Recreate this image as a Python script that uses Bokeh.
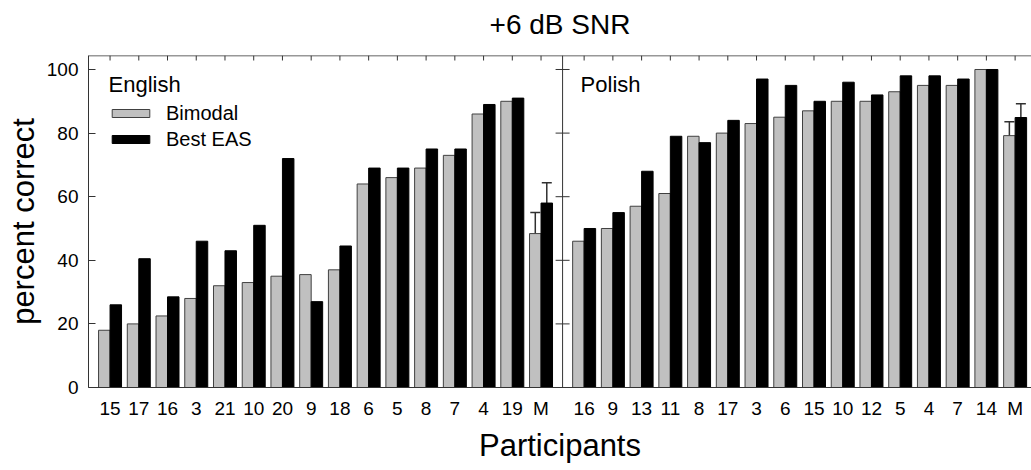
import numpy as np
from bokeh.plotting import figure
from bokeh.models import (Range1d, FixedTicker, Span, Label, Legend, LinearAxis,
                          LegendItem, Whisker, TeeHead, ColumnDataSource)
from bokeh.embed import file_html
from bokeh.resources import INLINE

# ---------------- data ----------------
english_ids = ["15", "17", "16", "3", "21", "10", "20", "9", "18", "6", "5", "8", "7", "4", "19", "M"]
english_bimodal = [18, 20, 22.5, 28, 32, 33, 35, 35.5, 37, 64, 66, 69, 73, 86, 90, 48.4]
english_best_eas = [26, 40.5, 28.5, 46, 43, 51, 72, 27, 44.5, 69, 69, 75, 75, 89, 91, 58]
english_mean_err = [6.6, 6.4]          # bimodal, best EAS (upper error of mean)

polish_ids = ["16", "9", "13", "11", "8", "17", "3", "6", "15", "10", "12", "5", "4", "7", "14", "M"]
polish_bimodal = [46, 50, 57, 61, 79, 80, 83, 85, 87, 90, 90, 93, 95, 95, 100, 79.2]
polish_best_eas = [50, 55, 68, 79, 77, 84, 97, 95, 90, 96, 92, 98, 98, 97, 100, 84.9]
polish_mean_err = [4.4, 4.3]

y_ticks = [0, 20, 40, 60, 80, 100]
title_text = "+6 dB SNR"

# ---------------- layout constants ----------------
FONT = "Liberation Sans"
BAR_W = 0.4
PANEL_SHIFT = 16.5
DIVIDER = 15.75
X_START, X_END = -0.75, 32.07
Y_TOP = 104.4
GREY = "#c0c0c0"
EDGE = "#404040"
AX = "#333333"
PX_PER_X = 28.73
PX_PER_Y = 3.18

n = len(english_ids)
x_left = np.arange(n, dtype=float)
x_right = np.arange(n, dtype=float) + PANEL_SHIFT
centers = np.concatenate([x_left, x_right])
labels = english_ids + polish_ids

p = figure(width=1031, height=470, x_range=Range1d(X_START, X_END), y_range=Range1d(0, Y_TOP),
           output_backend="svg", toolbar_location=None,
           min_border_left=88, min_border_right=0, min_border_top=55, min_border_bottom=83)
p.outline_line_color = None
p.xgrid.grid_line_color = None
p.ygrid.grid_line_color = None

xax = p.below[0]
yax = p.left[0]

# title drawn as the label of a tick-less axis above the frame
top_axis = LinearAxis(ticker=FixedTicker(ticks=[]), major_tick_out=0, major_tick_in=0,
                      major_label_standoff=0, axis_line_color=None, major_tick_line_color=None,
                      minor_tick_line_color=None, axis_label=title_text,
                      axis_label_text_font=FONT, axis_label_text_font_size="28px",
                      axis_label_text_font_style="normal", axis_label_text_color="black",
                      axis_label_standoff=16)
p.add_layout(top_axis, "above")

# bars
bim_x = centers - BAR_W / 2
eas_x = centers + BAR_W / 2
bim_top = english_bimodal + polish_bimodal
eas_top = english_best_eas + polish_best_eas

r_bim = p.vbar(x=bim_x, top=bim_top, width=BAR_W, bottom=0,
               fill_color=GREY, line_color=EDGE, line_width=1)
r_eas = p.vbar(x=eas_x, top=eas_top, width=BAR_W, bottom=0,
               fill_color="black", line_color="black", line_width=1)

# error bars of the means
err_src = ColumnDataSource(dict(
    x=[x_left[-1] - BAR_W / 2, x_left[-1] + BAR_W / 2, x_right[-1] - BAR_W / 2, x_right[-1] + BAR_W / 2],
    lower=[english_bimodal[-1], english_best_eas[-1], polish_bimodal[-1], polish_best_eas[-1]],
    upper=[english_bimodal[-1] + english_mean_err[0], english_best_eas[-1] + english_mean_err[1],
           polish_bimodal[-1] + polish_mean_err[0], polish_best_eas[-1] + polish_mean_err[1]],
))
p.add_layout(Whisker(base="x", lower="lower", upper="upper", source=err_src, dimension="height",
                     line_color="#303030", line_width=1.5, lower_head=None,
                     upper_head=TeeHead(size=10, line_color="#303030", line_width=1.5)))

# frame top line with inward ticks at category centres
p.add_layout(Span(location=Y_TOP, dimension="width", line_color=AX, line_width=1.5))
p.segment(x0=centers, x1=centers, y0=[Y_TOP] * len(centers), y1=[Y_TOP - 5 / PX_PER_Y] * len(centers),
          line_color=AX, line_width=1)

# divider between panels with ticks on both sides
p.add_layout(Span(location=DIVIDER, dimension="height", line_color=AX, line_width=1))
tick_half = 7 / PX_PER_X
p.segment(x0=[DIVIDER - tick_half] * len(y_ticks), x1=[DIVIDER + tick_half] * len(y_ticks),
          y0=y_ticks, y1=y_ticks, line_color=AX, line_width=1)

# left axis
yax.ticker = FixedTicker(ticks=y_ticks)
yax.major_tick_in = 7
yax.major_tick_out = 0
yax.minor_tick_line_color = None
yax.axis_line_color = AX
yax.major_tick_line_color = AX
yax.axis_label = "percent correct"
yax.axis_label_text_font = FONT
yax.axis_label_text_font_size = "31px"
yax.axis_label_text_font_style = "normal"
yax.axis_label_text_color = "black"
yax.axis_label_standoff = 3
yax.major_label_text_font = FONT
yax.major_label_text_font_size = "19px"
yax.major_label_text_color = "black"
yax.major_label_standoff = 10

# bottom axis
xax.ticker = FixedTicker(ticks=list(centers))
xax.major_label_overrides = {float(c): lab for c, lab in zip(centers, labels)}
xax.major_tick_in = 0
xax.major_tick_out = 0
xax.minor_tick_line_color = None
xax.axis_line_color = AX
xax.axis_label = "Participants"
xax.axis_label_text_font = FONT
xax.axis_label_text_font_size = "31px"
xax.axis_label_text_font_style = "normal"
xax.axis_label_text_color = "black"
xax.axis_label_standoff = 6
xax.major_label_text_font = FONT
xax.major_label_text_font_size = "19px"
xax.major_label_text_color = "black"
xax.major_label_standoff = 10

# panel labels
p.add_layout(Label(x=X_START, x_offset=20, y=95.3, text="English", text_baseline="middle",
                   text_font=FONT, text_font_size="22px", text_color="black"))
p.add_layout(Label(x=DIVIDER, x_offset=18, y=95.3, text="Polish", text_baseline="middle",
                   text_font=FONT, text_font_size="22px", text_color="black"))

# legend
legend = Legend(items=[LegendItem(label="Bimodal", renderers=[r_bim]),
                       LegendItem(label="Best EAS", renderers=[r_eas])],
                location=(19, 236), glyph_width=47, glyph_height=10, label_height=24,
                spacing=2, padding=0, margin=0, label_standoff=12,
                label_text_font=FONT, label_text_font_size="20px", label_text_color="black",
                border_line_color=None, background_fill_alpha=0)
p.add_layout(legend)

open("out.html", "w").write(file_html(p, INLINE))
